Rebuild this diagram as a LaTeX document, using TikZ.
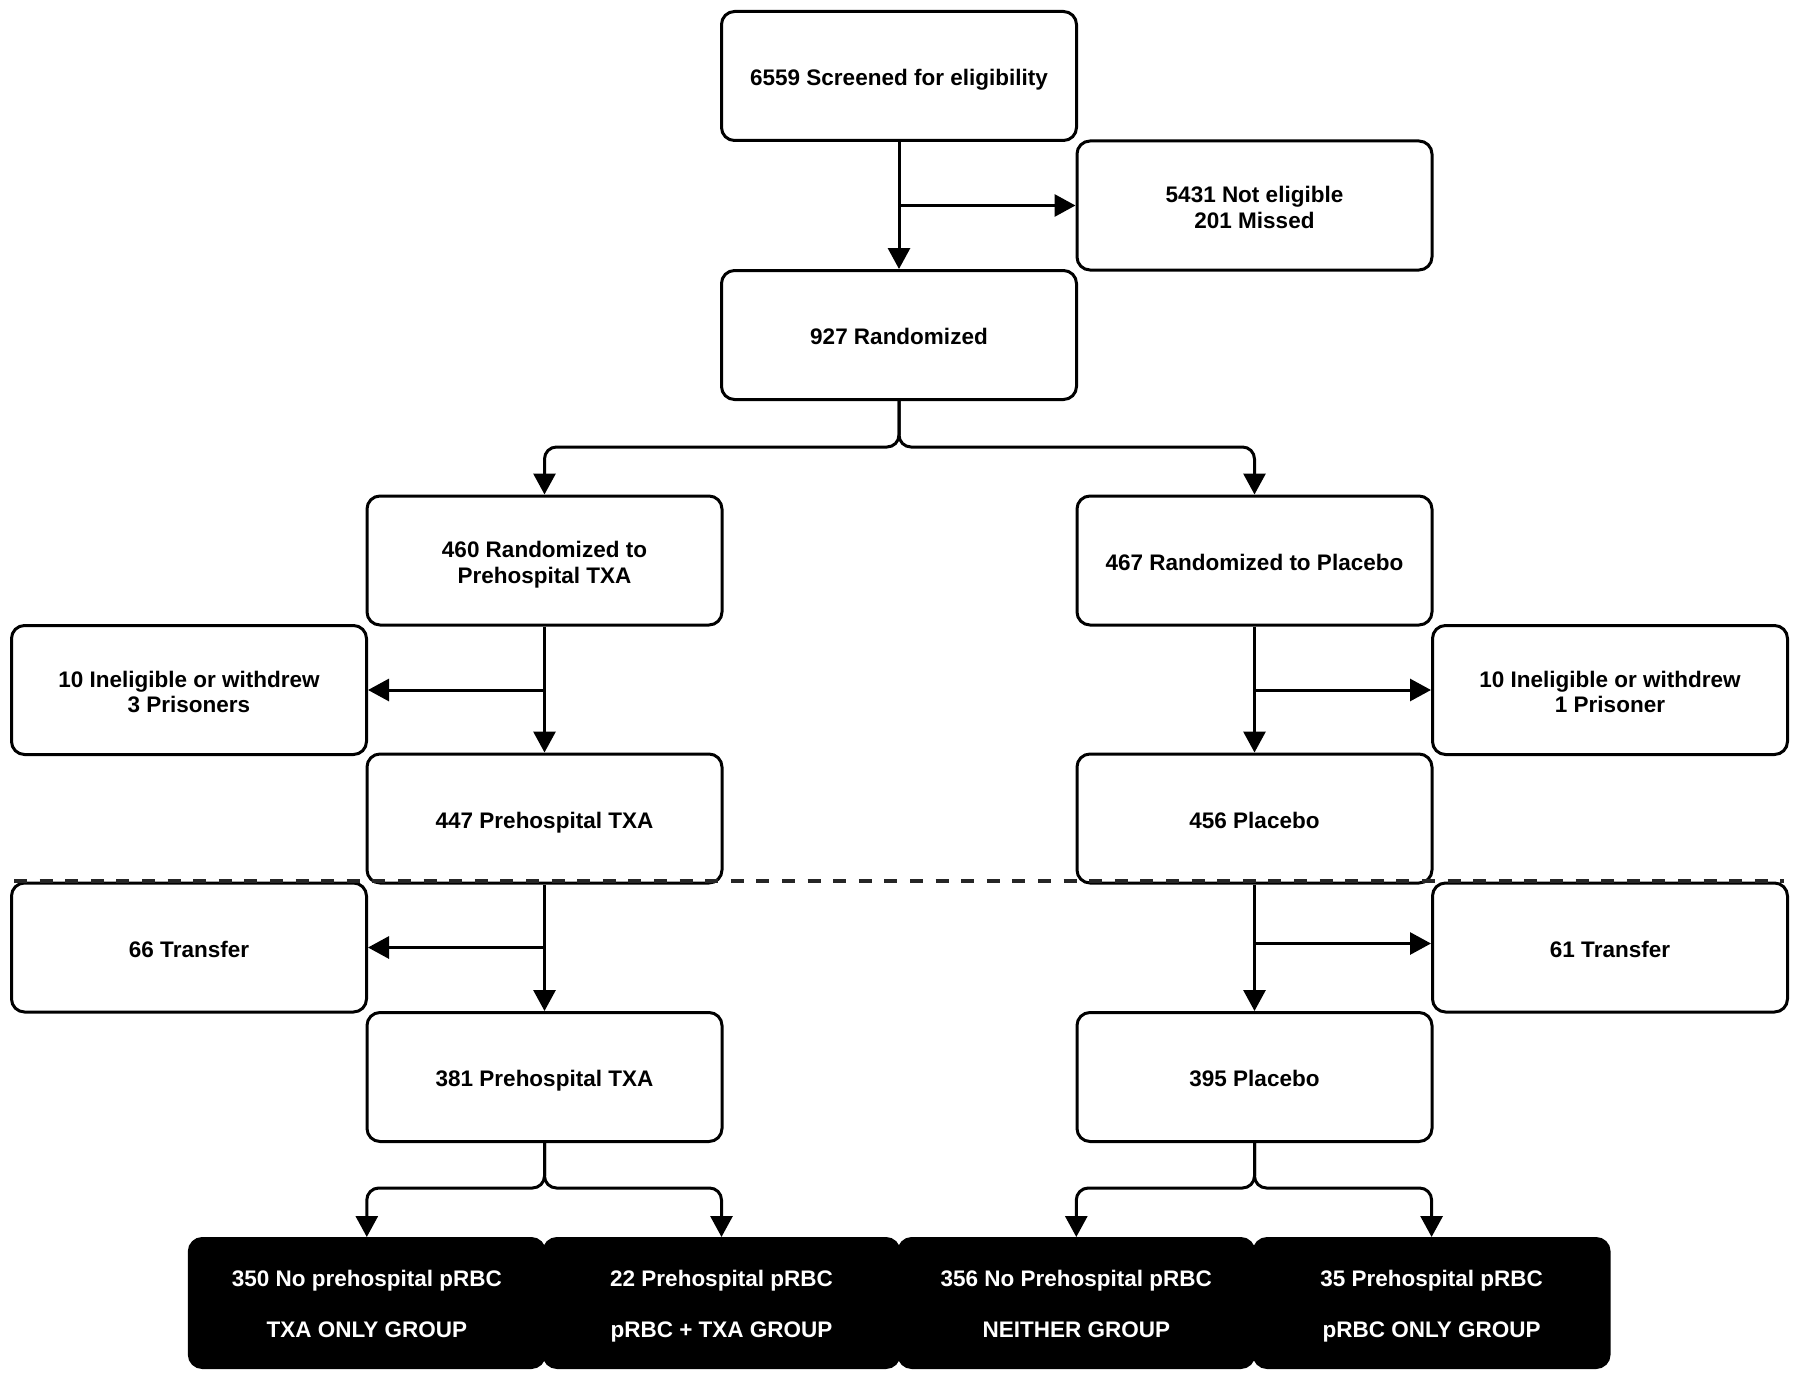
\documentclass[tikz,border=0pt]{standalone}
\usepackage{fontspec}
\setmainfont{Liberation Sans}
\usetikzlibrary{arrows.meta}
\newcommand\mytop{\rule{0pt}{12.3pt}}
\newcommand\mybot{\rule[-2.5pt]{0pt}{0pt}}
\newcommand\mytopd{\rule{0pt}{11pt}}
\tikzset{
  box/.style={draw=black, line width=1.5pt, rounded corners=6.5pt,
    minimum width=177.5pt, minimum height=64.5pt, inner sep=0pt,
    align=center, font=\fontsize{11.25pt}{12.8pt}\selectfont\bfseries},
  darkbox/.style={box, fill=black, text=white,
    font=\fontsize{11.25pt}{25.5pt}\selectfont\bfseries},
  arr/.style={-{Triangle[length=10.5pt,width=11pt]}, line width=1.5pt, rounded corners=6pt},
  sep/.style={line width=2pt, dash pattern=on 6.5pt off 6.3pt, draw=black!85}
}
\begin{document}
\begin{tikzpicture}[x=0.5pt,y=-0.5pt]
\useasboundingbox[fill=white] (0,0) rectangle (1800,1386);

\node[box] (screen) at (899,76) {\mytop 6559 Screened for eligibility\mybot};
\node[box] (notel) at (1254.5,205.5) {\mytop 5431 Not eligible\\201 Missed\mybot};
\node[box] (random) at (899,335) {\mytop 927 Randomized\mybot};

\node[box] (txa1) at (544.5,560.5) {\mytop 460 Randomized to\\Prehospital TXA\mybot};
\node[box] (plc1) at (1254.5,560.5) {\mytop 467 Randomized to Placebo\mybot};

\node[box] (inel1) at (189,690) {\mytop 10 Ineligible or withdrew\\3 Prisoners\mybot};
\node[box] (inel2) at (1610,690) {\mytop 10 Ineligible or withdrew\\1 Prisoner\mybot};

\node[box] (txa2) at (544.5,818.5) {\mytop 447 Prehospital TXA\mybot};
\node[box] (plc2) at (1254.5,818.5) {\mytop 456 Placebo\mybot};

\node[box] (trans1) at (189,947.5) {\mytop 66 Transfer\mybot};
\node[box] (trans2) at (1610,947.5) {\mytop 61 Transfer\mybot};

\node[box] (txa3) at (544.5,1077) {\mytop 381 Prehospital TXA\mybot};
\node[box] (plc3) at (1254.5,1077) {\mytop 395 Placebo\mybot};

\node[darkbox] (g1) at (366.8,1303) {\mytopd 350 No prehospital pRBC\\TXA ONLY GROUP\mybot};
\node[darkbox] (g2) at (721.5,1303) {\mytopd 22 Prehospital pRBC\\pRBC + TXA GROUP\mybot};
\node[darkbox] (g3) at (1076.3,1303) {\mytopd 356 No Prehospital pRBC\\NEITHER GROUP\mybot};
\node[darkbox] (g4) at (1431.6,1303) {\mytopd 35 Prehospital pRBC\\pRBC ONLY GROUP\mybot};

% connectors
\draw[arr] (screen) -- (random);
\draw[arr] (screen.south |- notel.west) -- (notel.west);

\draw[arr] (random.south) -- ++(0,46) -| (txa1.north);
\draw[arr] (random.south) -- ++(0,46) -| (plc1.north);

\draw[arr] (txa1) -- (txa2);
\draw[arr] (txa1.south |- inel1.east) -- (inel1.east);
\draw[arr] (plc1) -- (plc2);
\draw[arr] (plc1.south |- inel2.west) -- (inel2.west);

\draw[arr] (txa2) -- (txa3);
\draw[arr] (txa2.south |- trans1.east) -- (trans1.east);
\draw[arr] (plc2) -- (plc3);
\coordinate (t2in) at ([yshift=2pt]trans2.west);
\draw[arr] (plc2.south |- t2in) -- (t2in);

\draw[arr] (txa3.south) -- ++(0,45) -| (g1.north);
\draw[arr] (txa3.south) -- ++(0,45) -| (g2.north);
\draw[arr] (plc3.south) -- ++(0,45) -| (g3.north);
\draw[arr] (plc3.south) -- ++(0,45) -| (g4.north);

% separator
\coordinate (sepL) at (14,881);
\coordinate (sepR) at (1784,881);
\draw[sep] (sepL) -- (sepR);
\end{tikzpicture}
\end{document}
